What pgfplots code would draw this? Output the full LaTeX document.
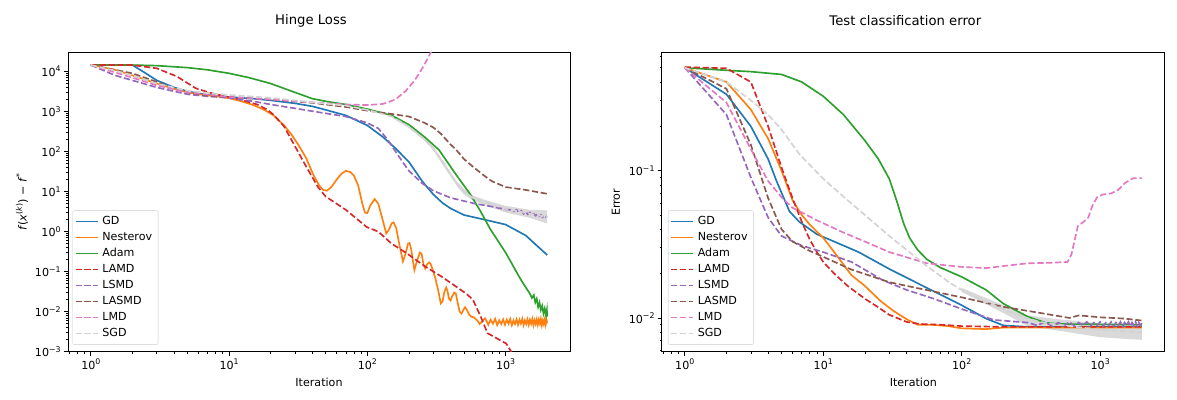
\documentclass[border=0pt]{standalone}
\usepackage{fontspec}
\setmainfont{DejaVu Sans}
\usepackage{pgfplots}
\pgfplotsset{compat=1.18}
\definecolor{C0}{HTML}{1F77B4}
\definecolor{C1}{HTML}{FF7F0E}
\definecolor{C2}{HTML}{2CA02C}
\definecolor{C3}{HTML}{D62728}
\definecolor{C4}{HTML}{9467BD}
\definecolor{C5}{HTML}{8C564B}
\definecolor{C6}{HTML}{E377C2}
\definecolor{C7}{HTML}{D3D3D3}
\newcommand{\sups}[1]{\raisebox{0.42em}{\fontsize{7.8}{8}\selectfont #1}}
\newcommand{\logticklabel}{\pgfmathtruncatemacro\myE{round(\tick)}\ifnum\myE<0 \pgfmathtruncatemacro\myEE{-\myE}10\sups{−\myEE}\else 10\sups{\myE}\fi}
\tikzset{
  dsh/.style={dash pattern=on 6.2pt off 2.7pt},
  s0/.style={draw=C0, color=C0, line width=1.65pt},
  s1/.style={draw=C1, color=C1, line width=1.65pt},
  s2/.style={draw=C2, color=C2, line width=1.65pt},
  s3/.style={draw=C3, color=C3, line width=1.65pt, dsh},
  s4/.style={draw=C4, color=C4, line width=1.65pt, dsh},
  s5/.style={draw=C5, color=C5, line width=1.65pt, dsh},
  s6/.style={draw=C6, color=C6, line width=1.65pt, dsh},
  s7/.style={draw=C7, color=C7, line width=1.65pt, dsh},
}
\begin{document}
\begin{tikzpicture}
\useasboundingbox (0,0) rectangle (1177pt,399pt);
% ---------------- Left ----------------
\begin{axis}[at={(68pt,47.3pt)}, anchor=south west, width=502pt, height=299pt,
    scale only axis, xmode=log, ymode=log, log basis x=10, log basis y=10,
    xmin=0.684, xmax=2924,
    tick align=outside, tick pos=left,
    major tick length=3.9pt, minor tick length=2.2pt,
    major tick style={black, line width=0.9pt},
    minor tick style={black, line width=0.65pt},
    axis line style={black, line width=0.9pt},
    tick label style={font=\fontsize{11.1}{13}\selectfont},
    xticklabel={\logticklabel}, yticklabel={\logticklabel},
    every axis label/.append style={font=\fontsize{11.1}{13}\selectfont},
    title style={font=\fontsize{13.2}{15}\selectfont, at={(0.5,1)}, anchor=base, yshift=21.7pt, xshift=-8pt},
    xlabel style={at={(0.5,0)}, anchor=base, yshift=-35pt},
    ylabel style={at={(0,0.5)}, anchor=center, yshift=46pt},
    legend cell align=left,
    legend image post style={line width=1.65pt, xscale=1.29},
    legend style={at={(0.009,0.023)}, anchor=south west, draw=black!20,
      rounded corners=2pt, fill=white, fill opacity=0.8, text opacity=1, draw opacity=1,
      font=\fontsize{11.1}{13}\selectfont, inner xsep=2pt, inner ysep=3pt, row sep=0pt,
      nodes={inner xsep=4pt, inner ysep=2.8pt, text height=8pt, text depth=2.4pt}},
  ymin=1e-3, ymax=2.95e4, title={Hinge Loss}, xlabel={Iteration},
  ylabel={\textit{f}(\textit{x}\sups{(\textit{k})}) − \textit{f}\sups{*}}]
\addplot[fill=black!15, draw=none, forget plot] coordinates {
(150,790)(200,450)(260,215)(300,132)(350,62)(400,30)(450,17)(500,11.5)(580,8)(700,6.3)(1000,4.4)(1500,3.5)(2000,3.4)
(2000,1.6)(1500,2.2)(1000,3.0)(700,4.7)(580,6)(500,8.5)(450,13)(400,24)(350,48)(300,108)(260,185)(200,390)(150,710)} --cycle;
\addplot[s0] coordinates {
(1,14500)(2,14500)(2.5,9000)(3,6000)(4,4000)(5,3200)(7,2600)(10,2300)(15,2100)(20,1900)(30,1600)(40,1350)(50,1100)(70,800)(100,450)(130,230)(160,120)(200,55)(250,18)(300,8.5)(350,5.2)(400,3.8)(500,2.6)(700,2.0)(1000,1.5)(1400,0.8)(2000,0.26)};
\addlegendentry{GD}
\addplot[s1] coordinates {
(1,14500)(1.5,11000)(2,8000)(3,5000)(4,3700)(5,3000)(6,2700)(8,2400)(10,2150)(12,1850)(15,1450)(18,1100)(21,800)(25,450)(28,280)(32,140)(36,70)(41,25)(45,14)(48,11)(51,10.5)(55,13)(60,20)(65,28)(70,33)(75,31)(80,25)(86,14)(92,5)(96,3)(100,2.9)(105,4.5)(113,6.5)(120,5)(128,2.2)(137,0.9)(143,1.1)(150,1.6)(155,1.7)(162,1.2)(170,0.5)(181,0.18)(190,0.3)(197,0.5)(202,0.52)(208,0.35)(214,0.18)(219,0.11)(228,0.18)(240,0.3)(247,0.28)(255,0.15)(262,0.12)(270,0.15)(280,0.17)(286,0.16)(295,0.12)(310,0.07)(325,0.035)(340,0.016)(350,0.018)(360,0.03)(372,0.04)(380,0.033)(390,0.021)(400,0.019)(410,0.024)(425,0.03)(437,0.028)(450,0.017)(465,0.01)(480,0.009)(495,0.011)(510,0.013)(525,0.011)(545,0.0085)(565,0.0075)(590,0.0072)(610,0.0065)(630,0.0058)(650,0.0049)(670,0.0055)(690,0.0062)(710,0.0068)(730,0.0058)
(750,0.0047)(780,0.0063)(810,0.005)(840,0.0066)(870,0.0046)(900,0.0061)(930,0.0049)(960,0.0064)(990,0.0047)(1020,0.0063)(1050,0.005)(1080,0.0066)(1110,0.0046)(1140,0.0061)(1170,0.0049)(1200,0.0064)(1230,0.0047)(1260,0.0063)(1290,0.005)(1320,0.0066)(1350,0.0046)(1380,0.0061)(1410,0.0049)(1440,0.0064)(1470,0.0047)(1500,0.0063)(1530,0.005)(1560,0.0066)(1590,0.0046)(1620,0.0061)(1650,0.0049)(1680,0.0064)(1710,0.0047)(1740,0.0063)(1770,0.005)(1800,0.0066)(1830,0.0046)(1860,0.0061)(1890,0.0049)(1920,0.0064)(1950,0.0047)(1980,0.0062)(2000,0.0052)};
\addlegendentry{Nesterov}
\addplot[s2] coordinates {
(1,14500)(2,14500)(3,14000)(5,12500)(7,11000)(10,9000)(14,7000)(20,5000)(30,3000)(40,2100)(50,1800)(70,1500)(100,1150)(150,800)(200,470)(260,230)(330,110)(440,26)(550,9)(650,3.5)(770,1.2)(1000,0.3)(1300,0.06)(1500,0.028)(1550,0.022)(1600,0.026)(1640,0.017)(1680,0.021)(1720,0.013)(1760,0.017)(1800,0.011)(1840,0.014)(1880,0.009)(1920,0.012)(1960,0.008)(1990,0.011)(2000,0.0075)};
\addlegendentry{Adam}
\addplot[s3] coordinates {
(1,14500)(2,14500)(3,12000)(4.2,7500)(5.75,3800)(7.4,2900)(10,2300)(12,2000)(16,1500)(19,1100)(21,830)(25,425)(30,135)(36,43)(44,13)(50,7.5)(70,3.5)(99,1.3)(120,1.0)(150,0.5)(192,0.29)(266,0.13)(345,0.075)(440,0.042)(520,0.028)(580,0.02)(660,0.0076)(740,0.0029)(1010,0.0016)(1100,0.001)(1200,0.0004)};
\addlegendentry{LAMD}
\addplot[s4] coordinates {
(1,14500)(1.5,8000)(2,6000)(3,4000)(4,3200)(5,2700)(7,2400)(10,2200)(15,1800)(20,1500)(30,1200)(50,900)(70,750)(100,520)(120,380)(140,200)(160,100)(180,55)(200,33)(250,16)(300,10.5)(400,7)(600,5)(800,4.2)(1000,3.6)(1100,3.5)(1150,3.2)(1200,3.5)(1250,3.0)(1300,3.3)(1350,2.8)(1400,3.1)(1450,2.7)(1500,3.0)(1550,2.6)(1600,2.8)(1650,2.5)(1700,2.7)(1750,2.4)(1800,2.6)(1850,2.3)(1900,2.5)(1950,2.3)(2000,2.4)};
\addlegendentry{LSMD}
\addplot[s5] coordinates {
(1,14500)(2,9000)(3,5500)(4,3800)(5,3000)(7,2500)(10,2300)(20,2000)(40,1650)(70,1300)(100,1050)(150,870)(200,750)(260,520)(300,400)(340,280)(400,150)(440,110)(500,65)(580,42)(700,25)(800,18)(1000,13)(1400,11)(2000,8.8)};
\addlegendentry{LASMD}
\addplot[s6] coordinates {
(1,14500)(1.5,9500)(2,7000)(3,4500)(5,3000)(10,2300)(20,2000)(40,1700)(70,1500)(100,1450)(130,1550)(160,2000)(190,3300)(220,6000)(250,12000)(280,25000)(300,40000)(330,90000)};
\addlegendentry{LMD}
\addplot[s7] coordinates {
(1,14500)(1.5,10500)(2,8000)(3,5000)(5,3300)(7,2900)(10,2600)(20,2200)(40,1700)(70,1400)(100,1100)(150,750)(200,420)(260,200)(300,120)(350,55)(400,27)(450,15)(500,10)(580,7)(700,5.5)(1000,3.7)(1500,2.8)(2000,2.3)};
\addlegendentry{SGD}
\end{axis}
% ---------------- Right ----------------
\begin{axis}[at={(661.9pt,47.3pt)}, anchor=south west, width=502.8pt, height=299pt,
    scale only axis, xmode=log, ymode=log, log basis x=10, log basis y=10,
    xmin=0.684, xmax=2924,
    tick align=outside, tick pos=left,
    major tick length=3.9pt, minor tick length=2.2pt,
    major tick style={black, line width=0.9pt},
    minor tick style={black, line width=0.65pt},
    axis line style={black, line width=0.9pt},
    tick label style={font=\fontsize{11.1}{13}\selectfont},
    xticklabel={\logticklabel}, yticklabel={\logticklabel},
    every axis label/.append style={font=\fontsize{11.1}{13}\selectfont},
    title style={font=\fontsize{13.2}{15}\selectfont, at={(0.5,1)}, anchor=base, yshift=21.7pt, xshift=-8pt},
    xlabel style={at={(0.5,0)}, anchor=base, yshift=-35pt},
    ylabel style={at={(0,0.5)}, anchor=center, yshift=46pt},
    legend cell align=left,
    legend image post style={line width=1.65pt, xscale=1.29},
    legend style={at={(0.012,0.023)}, anchor=south west, draw=black!20,
      rounded corners=2pt, fill=white, fill opacity=0.8, text opacity=1, draw opacity=1,
      font=\fontsize{11.1}{13}\selectfont, inner xsep=2pt, inner ysep=3pt, row sep=0pt,
      nodes={inner xsep=4pt, inner ysep=2.8pt, text height=8pt, text depth=2.4pt}},
  ymin=0.0059, ymax=0.632, title={Test classification error}, xlabel={Iteration},
  ylabel={Error}]
\addplot[fill=black!15, draw=none, forget plot] coordinates {
(100,0.016)(200,0.0122)(300,0.0104)(500,0.0098)(1000,0.0092)(2000,0.0089)
(2000,0.0071)(1000,0.0074)(500,0.0082)(300,0.0088)(200,0.0108)(100,0.015)} --cycle;
\addplot[s0] coordinates {
(1,0.5)(2,0.33)(3,0.2)(4,0.12)(4.6,0.085)(5.7,0.053)(6.7,0.045)(9,0.037)(12,0.033)(18,0.028)(30,0.0215)(56,0.016)(100,0.0122)(150,0.0099)(200,0.0089)(300,0.0087)(2000,0.0087)};
\addlegendentry{GD}
\addplot[s1] coordinates {
(1,0.5)(2,0.4)(3,0.26)(4,0.165)(5,0.1)(6,0.063)(7,0.05)(8,0.043)(10,0.035)(12,0.028)(16,0.0195)(20,0.0165)(26,0.013)(32,0.0112)(40,0.0098)(48,0.009)(60,0.009)(80,0.0088)(100,0.0085)(150,0.0084)(200,0.0086)(2000,0.0086)};
\addlegendentry{Nesterov}
\addplot[s2] coordinates {
(1,0.5)(2,0.48)(3,0.47)(5,0.45)(7,0.4)(10,0.32)(14,0.24)(20,0.16)(25,0.12)(30,0.088)(34,0.062)(38,0.044)(42,0.035)(48,0.029)(56,0.025)(70,0.022)(100,0.019)(150,0.0155)(200,0.0125)(300,0.0102)(400,0.0093)(500,0.0091)(2000,0.009)};
\addlegendentry{Adam}
\addplot[s3] coordinates {
(1,0.505)(2,0.495)(3,0.4)(4,0.2)(5,0.105)(6,0.065)(7,0.045)(8,0.034)(9,0.028)(10,0.024)(12,0.02)(15,0.0165)(20,0.0135)(25,0.0118)(30,0.0105)(40,0.0094)(50,0.0091)(70,0.009)(100,0.0088)(200,0.0087)(2000,0.0087)};
\addlegendentry{LAMD}
\addplot[s4] coordinates {
(1,0.5)(2,0.24)(3,0.09)(4,0.048)(5,0.036)(7,0.031)(10,0.028)(16,0.024)(27,0.018)(40,0.0155)(63,0.0135)(100,0.0115)(170,0.0097)(300,0.0093)(350,0.0089)(400,0.0094)(450,0.0088)(500,0.0093)(550,0.0089)(600,0.0094)(650,0.0088)(700,0.0093)(750,0.0089)(800,0.0094)(850,0.0088)(900,0.0093)(950,0.0089)(1000,0.0094)(1050,0.0088)(1100,0.0093)(1150,0.0089)(1200,0.0094)(1250,0.0088)(1300,0.0093)(1350,0.0089)(1400,0.0094)(1450,0.0088)(1500,0.0093)(1550,0.0089)(1600,0.0094)(1650,0.0088)(1700,0.0093)(1750,0.0089)(1800,0.0094)(1850,0.0088)(1900,0.0093)(1950,0.0089)(2000,0.0092)};
\addlegendentry{LSMD}
\addplot[s5] coordinates {
(1,0.5)(2,0.36)(3,0.15)(4,0.065)(5,0.04)(6,0.033)(8,0.0285)(10,0.026)(16,0.0213)(30,0.0175)(50,0.0158)(100,0.0138)(200,0.0119)(330,0.011)(500,0.0103)(600,0.01)(700,0.0104)(800,0.0103)(1000,0.0101)(1500,0.0099)(2000,0.0096)};
\addlegendentry{LASMD}
\addplot[s6] coordinates {
(1,0.5)(2,0.29)(3,0.14)(4,0.085)(5,0.066)(6,0.056)(9,0.046)(14,0.038)(20,0.033)(30,0.028)(56,0.0235)(100,0.0222)(150,0.0218)(200,0.0225)(300,0.0235)(450,0.0237)(580,0.024)(620,0.027)(660,0.035)(690,0.042)(760,0.045)(820,0.048)(880,0.058)(950,0.066)(1050,0.069)(1200,0.07)(1350,0.074)(1500,0.082)(1650,0.087)(1750,0.089)(2000,0.089)};
\addlegendentry{LMD}
\addplot[s7] coordinates {
(1,0.5)(2,0.4)(3,0.3)(4,0.24)(5,0.19)(6.7,0.13)(10,0.088)(15,0.063)(20,0.05)(30,0.036)(40,0.029)(56,0.0225)(83,0.0172)(100,0.0155)(146,0.013)(200,0.0115)(250,0.0105)(366,0.0094)(500,0.009)(1000,0.0083)(2000,0.008)};
\addlegendentry{SGD}
\end{axis}
\end{tikzpicture}
\end{document}
